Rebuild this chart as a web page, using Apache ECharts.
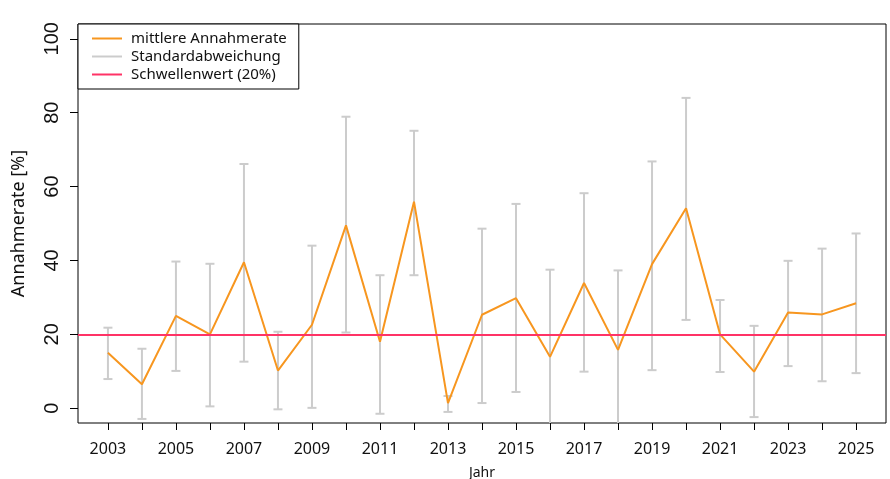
<!DOCTYPE html>
<html>
<head>
<meta charset="utf-8">
<script src="https://cdn.jsdelivr.net/npm/echarts@6/dist/echarts.min.js"></script>
<style>
  html, body { margin: 0; padding: 0; background: #fff; }
  #chart { width: 890px; height: 479px; }
</style>
</head>
<body>
<div id="chart"></div>
<script>
// Jahre und Werte
const years = [2003, 2004, 2005, 2006, 2007, 2008, 2009, 2010, 2011, 2012, 2013, 2014,
  2015, 2016, 2017, 2018, 2019, 2020, 2021, 2022, 2023, 2024, 2025];
const meanRate = [15.0, 6.5, 25.0, 20.0, 39.5, 10.2, 22.6, 49.5, 18.0, 55.9, 1.4, 25.3,
  29.8, 13.9, 33.9, 15.8, 39.0, 54.1, 20.0, 9.9, 25.9, 25.4, 28.4];
const sdUpper = [21.8, 16.1, 39.7, 39.1, 66.1, 20.7, 44.0, 78.9, 36.0, 75.1, 3.3, 48.6,
  55.3, 37.5, 58.2, 37.3, 66.8, 84.0, 29.3, 22.3, 39.9, 43.2, 47.3];
const sdLower = [7.9, -2.9, 10.1, 0.5, 12.6, -0.3, 0.1, 20.5, -1.5, 36.0, -1.0, 1.4,
  4.4, -9.7, 9.9, -5.7, 10.3, 23.9, 9.8, -2.4, 11.4, 7.3, 9.5];
const threshold = 20;
const yTicks = [0, 20, 40, 60, 80, 100];
const xLabelYears = years.filter((y) => (y - 2003) % 2 === 0);

const orange = "#f7961f";
const grey = "#cccccc";
const red = "#ff3366";
const labelFont = "Noto Sans";

const chart = echarts.init(document.getElementById("chart"));

// Fehlerbalken mit Endkappen
function renderErrorBar(params, api) {
  const x = api.value(0);
  const top = api.coord([x, api.value(1)]);
  const bottom = api.coord([x, api.value(2)]);
  const cap = 4.5;
  const style = { stroke: grey, lineWidth: 2 };
  return {
    type: "group",
    children: [
      { type: "line", shape: { x1: top[0], y1: top[1], x2: bottom[0], y2: bottom[1] }, style },
      { type: "line", shape: { x1: top[0] - cap, y1: top[1], x2: top[0] + cap, y2: top[1] }, style },
      { type: "line", shape: { x1: bottom[0] - cap, y1: bottom[1], x2: bottom[0] + cap, y2: bottom[1] }, style },
    ],
  };
}

const option = {
  animation: false,
  grid: {
    left: 78,
    top: 24,
    width: 808,
    height: 399,
    outerBoundsMode: "none",
    show: true,
    borderColor: "#000",
    borderWidth: 1,
    backgroundColor: "transparent",
  },
  legend: {
    orient: "vertical",
    left: 78,
    top: 24,
    padding: [7, 12, 7, 14],
    itemGap: 3,
    itemWidth: 30,
    itemHeight: 2,
    borderColor: "#000",
    borderWidth: 1,
    backgroundColor: "#fff",
    textStyle: { fontFamily: labelFont, fontSize: 15, color: "#111", padding: [0, 0, 0, 4] },
    data: [
      { name: "mittlere Annahmerate", icon: "rect", itemStyle: { color: orange } },
      { name: "Standardabweichung", icon: "rect", itemStyle: { color: grey } },
      { name: "Schwellenwert (20%)", icon: "rect", itemStyle: { color: red } },
    ],
    z: 10,
  },
  xAxis: {
    type: "value",
    min: 2002.12,
    max: 2025.88,
    name: "Jahr",
    nameLocation: "middle",
    nameGap: 43,
    nameTextStyle: { fontFamily: labelFont, fontSize: 14, color: "#111" },
    axisLine: { show: false, onZero: false },
    splitLine: { show: false },
    axisTick: {
      show: true,
      inside: false,
      length: 7,
      customValues: years,
      lineStyle: { color: "#000", width: 1 },
    },
    axisLabel: {
      customValues: xLabelYears,
      margin: 18,
      fontFamily: labelFont,
      fontSize: 16,
      color: "#111",
      formatter: (v) => String(v),
    },
  },
  yAxis: {
    type: "value",
    min: -4,
    max: 104,
    name: "Annahmerate [%]",
    nameLocation: "middle",
    nameGap: 50,
    nameTextStyle: { fontFamily: labelFont, fontSize: 18, color: "#111" },
    axisLine: { show: false, onZero: false },
    splitLine: { show: false },
    axisTick: {
      show: true,
      inside: false,
      length: 8,
      customValues: yTicks,
      lineStyle: { color: "#000", width: 1 },
    },
    axisLabel: {
      customValues: yTicks,
      rotate: 90,
      margin: 16,
      fontFamily: "Liberation Sans",
      fontSize: 20,
      color: "#111",
    },
  },
  series: [
    {
      name: "Standardabweichung",
      type: "custom",
      clip: true,
      itemStyle: { color: grey },
      renderItem: renderErrorBar,
      data: years.map((y, i) => [y, sdUpper[i], sdLower[i]]),
      z: 2,
    },
    {
      name: "Schwellenwert (20%)",
      type: "line",
      data: [],
      itemStyle: { color: red },
      lineStyle: { color: red },
      markLine: {
        silent: true,
        symbol: "none",
        label: { show: false },
        lineStyle: { color: red, width: 2, type: "solid" },
        data: [{ yAxis: threshold }],
      },
      z: 3,
    },
    {
      name: "mittlere Annahmerate",
      type: "line",
      showSymbol: false,
      symbol: "none",
      itemStyle: { color: orange },
      lineStyle: { color: orange, width: 2 },
      data: years.map((y, i) => [y, meanRate[i]]),
      z: 4,
    },
  ],
};

chart.setOption(option);
</script>
</body>
</html>
